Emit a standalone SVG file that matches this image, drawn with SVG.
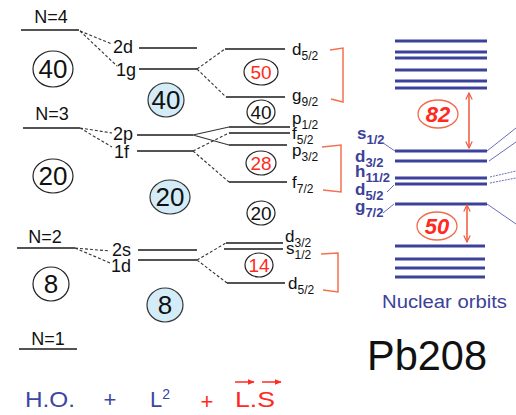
<svg xmlns="http://www.w3.org/2000/svg" width="516" height="415" viewBox="0 0 516 415">
<style>
text{font-family:"Liberation Sans","Open Sans",sans-serif;fill:#111}
.lbl{font-size:18px}
.orb{font-size:17px}
.sub{font-size:12px}
.lv{stroke:#1a1a1a;stroke-width:1.5}
.ds{stroke:#333;stroke-width:1.1;stroke-dasharray:3 2;fill:none}
.sl{stroke:#333;stroke-width:1.1;fill:none}
.c{fill:#fff;stroke:#222;stroke-width:1.2}
.cb{fill:#d4ecf8;stroke:#333;stroke-width:1.2}
.big{font-size:26px}
.mid{font-size:19px}
.red{fill:#ff2a20}
.br{fill:none;stroke:#f4714f;stroke-width:1.5}
.bl{stroke:#3c4199;stroke-width:3}
.bt{fill:#3c4199;font-weight:bold;font-size:17px}
.bts{font-size:13px}
.thin{stroke:#6a6fb8;stroke-width:1;fill:none}
.arr{stroke:#f05a3c;stroke-width:1.5;fill:none}
.ov{fill:#fff;stroke:#f26b4e;stroke-width:1.3}
.num{font-weight:bold;font-style:italic;font-size:22px;fill:#ff2a20}
</style>
<defs>
<marker id="ah" viewBox="0 0 10 10" refX="9" refY="5" markerWidth="8" markerHeight="8" orient="auto-start-reverse" markerUnits="userSpaceOnUse">
<path d="M1,1 L9,5 L1,9" fill="none" stroke="#f05a3c" stroke-width="1.5"/>
</marker>
<marker id="ra" viewBox="0 0 10 10" refX="9" refY="5" markerWidth="7" markerHeight="7" orient="auto" markerUnits="userSpaceOnUse">
<path d="M0,1 L10,5 L0,9 Z" fill="#ff2a20"/>
</marker>
</defs>

<!-- Harmonic oscillator shells -->
<g id="n4"><text class="lbl" x="51" y="23" text-anchor="middle">N=4</text><line class="lv" x1="21" y1="30" x2="79" y2="30"/></g>
<g id="n3"><text class="lbl" x="52" y="120" text-anchor="middle">N=3</text><line class="lv" x1="23" y1="128" x2="80" y2="128"/></g>
<g id="n2"><text class="lbl" x="45" y="243" text-anchor="middle">N=2</text><line class="lv" x1="17" y1="248" x2="75" y2="248"/></g>
<g id="n1"><text class="lbl" x="48" y="345" text-anchor="middle">N=1</text><line class="lv" x1="19" y1="349" x2="77" y2="349"/></g>

<g id="m40"><ellipse class="c" cx="53" cy="69" rx="20" ry="18"/><text class="big" x="53" y="78" text-anchor="middle">40</text></g>
<g id="m20"><ellipse class="c" cx="53" cy="176" rx="20" ry="17"/><text class="big" x="53" y="185" text-anchor="middle">20</text></g>
<g id="m8"><ellipse class="c" cx="51" cy="284" rx="18" ry="17"/><text class="big" x="51" y="293" text-anchor="middle">8</text></g>

<!-- L^2 levels -->
<g id="l2d"><text class="lbl" x="113" y="53">2d</text><line class="lv" x1="139" y1="48" x2="197" y2="48"/></g>
<g id="l1g"><text class="lbl" x="116" y="76">1g</text><line class="lv" x1="139" y1="69" x2="197" y2="69"/></g>
<g id="l2p"><text class="lbl" x="113" y="140">2p</text><line class="lv" x1="137" y1="135" x2="193" y2="135"/></g>
<g id="l1f"><text class="lbl" x="114" y="158">1f</text><line class="lv" x1="137" y1="151" x2="193" y2="151"/></g>
<g id="l2s"><text class="lbl" x="112" y="256">2s</text><line class="lv" x1="138" y1="250" x2="197" y2="250"/></g>
<g id="l1d"><text class="lbl" x="111" y="272">1d</text><line class="lv" x1="138" y1="260" x2="197" y2="260"/></g>

<g id="b40"><ellipse class="cb" cx="166" cy="100" rx="18" ry="17"/><text class="big" x="166" y="109" text-anchor="middle">40</text></g>
<g id="b20"><ellipse class="cb" cx="170" cy="197" rx="20" ry="17"/><text class="big" x="170" y="206" text-anchor="middle">20</text></g>
<g id="b8"><ellipse class="cb" cx="165" cy="305" rx="18" ry="17"/><text class="big" x="165" y="314" text-anchor="middle">8</text></g>

<!-- spin-orbit levels -->
<g id="sd52a"><line class="lv" x1="225" y1="49" x2="285" y2="49"/><text class="orb" x="292" y="55">d<tspan class="sub" dy="5">5/2</tspan></text></g>
<g id="sg92"><line class="lv" x1="226" y1="97" x2="285" y2="97"/><text class="orb" x="292" y="101">g<tspan class="sub" dy="5">9/2</tspan></text></g>
<g id="sp12"><line class="lv" x1="229" y1="127" x2="290" y2="127"/><text class="orb" x="292" y="124">p<tspan class="sub" dy="5">1/2</tspan></text></g>
<g id="sf52"><line class="lv" x1="229" y1="133" x2="290" y2="133"/><text class="orb" x="292" y="139">f<tspan class="sub" dy="5">5/2</tspan></text></g>
<g id="sp32"><line class="lv" x1="229" y1="145" x2="287" y2="145"/><text class="orb" x="292" y="156">p<tspan class="sub" dy="5">3/2</tspan></text></g>
<g id="sf72"><line class="lv" x1="229" y1="182" x2="287" y2="182"/><text class="orb" x="292" y="188">f<tspan class="sub" dy="5">7/2</tspan></text></g>
<g id="sd32"><line class="lv" x1="226" y1="243" x2="283" y2="243"/><text class="orb" x="285" y="242">d<tspan class="sub" dy="5">3/2</tspan></text></g>
<g id="ss12"><line class="lv" x1="224" y1="249" x2="283" y2="249"/><text class="orb" x="286" y="254">s<tspan class="sub" dy="5">1/2</tspan></text></g>
<g id="sd52b"><line class="lv" x1="227" y1="283" x2="285" y2="283"/><text class="orb" x="288" y="289">d<tspan class="sub" dy="5">5/2</tspan></text></g>

<g id="s50"><ellipse class="c" cx="261" cy="72" rx="17" ry="13"/><text class="mid red" x="261" y="79" text-anchor="middle">50</text></g>
<g id="s40"><ellipse class="c" cx="261" cy="112" rx="14" ry="12"/><text class="mid" x="261" y="119" text-anchor="middle">40</text></g>
<g id="s28"><ellipse class="c" cx="261" cy="163" rx="15" ry="12"/><text class="mid red" x="261" y="170" text-anchor="middle">28</text></g>
<g id="s20"><ellipse class="c" cx="261" cy="213" rx="14" ry="12"/><text class="mid" x="261" y="220" text-anchor="middle">20</text></g>
<g id="s14"><ellipse class="c" cx="259" cy="265" rx="14" ry="12"/><text class="mid red" x="259" y="272" text-anchor="middle">14</text></g>

<g id="brackets">
<path class="br" d="M330,50 L343,48 L343,102 L331,99"/>
<path class="br" d="M322,147 L341,145 L341,192 L323,190"/>
<path class="br" d="M321,254 L338,253 L338,292 L323,290"/>
</g>

<!-- connectors -->
<g id="connectors">
<path class="ds" d="M80,31 L112,44 M80,31 L117,66 M80,128 L112,133 M80,128 L112,147 M75,248 L110,251 M75,248 L110,263"/>
<path class="ds" d="M197,69 L225,49 M197,69 L226,97 M193,151 L229,133 M193,151 L229,182 M197,260 L226,243 M197,260 L227,283"/>
<path class="sl" d="M193,135 L229,127 M193,135 L229,145"/>
</g>

<!-- Pb208 nuclear orbits -->
<g id="orbits">
<line class="bl" x1="395" y1="41" x2="487" y2="41"/>
<line class="bl" x1="395" y1="52" x2="487" y2="52"/>
<line class="bl" x1="395" y1="58" x2="487" y2="58"/>
<line class="bl" x1="395" y1="70" x2="487" y2="70"/>
<line class="bl" x1="395" y1="81" x2="487" y2="81"/>
<line class="bl" x1="395" y1="88" x2="487" y2="88"/>
<line class="bl" x1="395" y1="151" x2="487" y2="151"/>
<line class="bl" x1="395" y1="161" x2="487" y2="161"/>
<line class="bl" x1="395" y1="178" x2="487" y2="178"/>
<line class="bl" x1="395" y1="184" x2="487" y2="184"/>
<line class="bl" x1="395" y1="204" x2="487" y2="204"/>
<line class="bl" x1="395" y1="246" x2="485" y2="246"/>
<line class="bl" x1="395" y1="259" x2="485" y2="259"/>
<line class="bl" x1="395" y1="268" x2="485" y2="268"/>
<line class="bl" x1="395" y1="277" x2="485" y2="277"/>
</g>
<g id="orbit-labels">
<text class="bt" x="357" y="139">s<tspan class="bts" dy="5">1/2</tspan></text>
<text class="bt" x="355" y="162">d<tspan class="bts" dy="5">3/2</tspan></text>
<text class="bt" x="355" y="177">h<tspan class="bts" dy="5">11/2</tspan></text>
<text class="bt" x="355" y="195">d<tspan class="bts" dy="5">5/2</tspan></text>
<text class="bt" x="355" y="212">g<tspan class="bts" dy="5">7/2</tspan></text>
</g>
<g id="orbit-links">
<path class="thin" d="M383,143 L395,151 M387,192 L394,185 M383,213 L394,204"/>
<path class="thin" d="M487,151 L516,128 M489,161 L516,142 M487,204 L516,224"/>
<path class="thin" stroke-dasharray="2 1" d="M490,177 L516,171 M490,183 L516,178"/>
</g>
<g id="gap82">
<line class="arr" x1="469" y1="93" x2="469" y2="148" marker-start="url(#ah)" marker-end="url(#ah)"/>
<ellipse class="ov" cx="438" cy="114" rx="20" ry="14"/>
<text class="num" x="438" y="122" text-anchor="middle">82</text>
</g>
<g id="gap50">
<line class="arr" x1="467" y1="205" x2="467" y2="242" marker-start="url(#ah)" marker-end="url(#ah)"/>
<ellipse class="ov" cx="437" cy="226" rx="20" ry="14"/>
<text class="num" x="437" y="234" text-anchor="middle">50</text>
</g>
<text x="382" y="308" style="font-size:18px;fill:#3c4199" textLength="125" lengthAdjust="spacingAndGlyphs">Nuclear orbits</text>
<text x="367" y="370" style="font-size:43px" textLength="120" lengthAdjust="spacingAndGlyphs">Pb208</text>

<!-- bottom formula -->
<g id="formula">
<text x="25" y="407" style="font-size:22px;fill:#3c47a4" textLength="50" lengthAdjust="spacingAndGlyphs">H.O.</text>
<text x="110" y="407" text-anchor="middle" style="font-size:22px;fill:#3c47a4">+</text>
<text x="150" y="407" style="font-size:22px;fill:#3c47a4">L<tspan style="font-size:14px" dy="-8">2</tspan></text>
<text x="207" y="409" text-anchor="middle" style="font-size:22px;fill:#ff2a20">+</text>
<text x="235" y="407" style="font-size:22px;fill:#ff2a20" textLength="40" lengthAdjust="spacingAndGlyphs">L.S</text>
<line x1="235" y1="382" x2="254" y2="382" stroke="#ff2a20" stroke-width="1.5" marker-end="url(#ra)"/>
<line x1="262" y1="382" x2="281" y2="382" stroke="#ff2a20" stroke-width="1.5" marker-end="url(#ra)"/>
</g>
</svg>
